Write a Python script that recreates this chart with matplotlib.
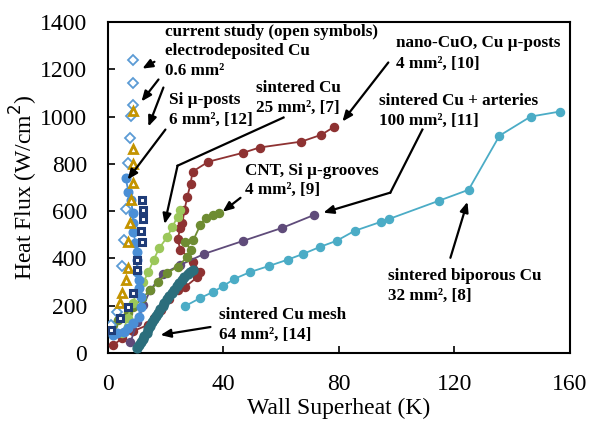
import matplotlib
matplotlib.use("Agg")
import matplotlib.pyplot as plt

plt.rcParams['font.family'] = ['Liberation Serif', 'DejaVu Serif']

# ---------------- data ----------------
# sintered biporous Cu, 32 mm2 [8]
bip_x = [26.8, 32.0, 36.5, 40.0, 43.8, 49.3, 55.9, 62.2, 67.7, 73.6, 79.2, 85.4, 94.7, 97.5, 114.5, 124.9, 135.6, 146.4, 156.4]
bip_y = [198, 232, 258, 283, 313, 342, 368, 394, 419, 449, 474, 516, 555, 567, 643, 690, 919, 1000, 1021]

# nano-CuO, Cu micro-posts, 4 mm2 [10]
cuo_x = [1.9, 5.0, 8.8, 13.7, 15.8, 18.2, 21.0, 24.1, 26.8, 31.0, 32.0, 29.3, 25.1, 24.1, 25.1, 25.8, 26.5, 27.5, 28.6, 29.3, 34.8, 46.9, 52.5, 67.0, 73.9, 78.4]
cuo_y = [33, 62, 92, 117, 147, 181, 227, 266, 279, 321, 342, 386, 437, 480, 529, 550, 605, 661, 716, 767, 809, 847, 869, 894, 923, 957]

# sintered Cu + arteries, 100 mm2 [11]
art_x = [7.8, 10.2, 12.3, 14.7, 18.9, 25.1, 33.4, 46.9, 60.4, 71.5]
art_y = [45, 131, 202, 266, 334, 372, 419, 474, 529, 584]

# CNT, Si micro-grooves, 4 mm2 [9]
cnt_x = [1.9, 3.6, 6.8, 8.8, 11.9, 14.7, 17.5, 20.6, 24.1, 27.5, 28.6, 26.8, 29.6, 32.0, 33.8, 36.5, 38.3]
cnt_y = [118, 139, 168, 194, 232, 266, 300, 338, 364, 406, 436, 470, 478, 541, 571, 584, 592]

# sintered Cu, 25 mm2 [7]
sin_x = [5.0, 6.8, 8.5, 10.2, 12.3, 14.0, 15.8, 17.8, 20.6, 22.3, 24.1, 25.1]
sin_y = [84, 147, 211, 258, 300, 342, 393, 444, 491, 533, 576, 605]

# sintered Cu mesh, 64 mm2 [14]
mesh_x = [10.2, 10.9, 11.3, 12.1, 12.6, 13.4, 13.9, 14.6, 15.4, 15.9, 16.8, 17.3, 18.1, 18.9, 19.5, 20.5, 21.1, 22.1, 22.8, 23.9, 24.6, 25.7, 26.5, 27.7, 28.5, 29.6]
mesh_y = [20, 31, 46, 57, 73, 85, 101, 113, 129, 141, 157, 169, 185, 197, 212, 227, 239, 255, 267, 283, 295, 310, 321, 335, 343, 351]

# Si micro-posts, 6 mm2 [12]
sip_x = [6.1, 7.1, 8.1, 8.5, 8.8, 8.8, 9.5, 9.9, 9.9, 10.2, 10.6, 10.9, 11.3, 11.3, 10.6, 8.8, 7.1, 5.4, 3.3, 1.6]
sip_y = [741, 682, 648, 593, 551, 513, 466, 428, 394, 343, 309, 275, 237, 194, 152, 126, 104, 87, 83, 75]

# current study (open symbols), electrodeposited Cu, 0.6 mm2
dia_x = [8.5, 8.5, 8.5, 8.1, 7.8, 7.1, 6.4, 5.7, 5.0, 3.3, 0.9]
dia_y = [1238, 1144, 1051, 1004, 911, 805, 610, 479, 369, 173, 118]
tri_x = [8.8, 8.8, 8.5, 8.8, 8.1, 7.8, 6.8, 6.8, 6.1, 4.7, 4.0]
tri_y = [1025, 864, 800, 720, 648, 550, 470, 359, 308, 253, 211]
sq_x = [11.9, 12.3, 12.3, 11.6, 11.9, 9.9, 10.2, 8.8, 6.8, 4.3, 0.9]
sq_y = [648, 605, 567, 516, 469, 392, 350, 252, 194, 147, 96]

x_ticks = [0, 40, 80, 120, 160]
y_ticks = [0, 200, 400, 600, 800, 1000, 1200, 1400]

# ---------------- figure ----------------
fig = plt.figure(figsize=(5.9, 4.25), dpi=100)
ax = fig.add_axes([0.183, 0.170, 0.783, 0.778])

ms = 5.8
lw = 1.3
ax.plot(bip_x, bip_y, '-o', color='#4BACC6', ms=ms, lw=lw, zorder=3)
ax.plot(cuo_x, cuo_y, '-o', color='#8E3232', ms=ms, lw=lw, zorder=3)
ax.plot(art_x, art_y, '-o', color='#5F4B7A', ms=ms, lw=lw, zorder=3)
ax.plot(cnt_x, cnt_y, '-o', color='#6E8C32', ms=ms, lw=lw, zorder=3)
ax.plot(sin_x, sin_y, '-o', color='#9BC75A', ms=ms, lw=lw, zorder=3)
ax.plot(mesh_x, mesh_y, '-o', color='#2B6E7C', ms=ms + 0.6, lw=lw, zorder=3)
ax.plot(sip_x, sip_y, '-o', color='#4A8FD6', ms=ms + 0.4, lw=lw, zorder=4)
ax.plot(dia_x, dia_y, 'D', mfc='white', mec='#5B9BD5', mew=1.3, ms=4.8, ls='none', zorder=5)
ax.plot(tri_x, tri_y, '^', mfc='white', mec='#C49400', mew=2.0, ms=6.2, ls='none', zorder=5)
ax.plot(sq_x, sq_y, 's', mfc='white', mec='#1F3C78', mew=2.2, ms=4.3, ls='none', zorder=5)

ax.set_xlim(0, 160)
ax.set_ylim(0, 1400)
ax.set_xticks(x_ticks)
ax.set_yticks(y_ticks)
ax.tick_params(direction='in', length=5, width=1.2, labelsize=17, pad=15)
for s in ax.spines.values():
    s.set_linewidth(1.5)
ax.set_xlabel('Wall Superheat (K)', fontsize=17, labelpad=2)
ax.set_ylabel('Heat Flux (W/cm$^2$)', fontsize=17, labelpad=0)

# ---------------- annotations ----------------
tk = dict(fontsize=12.3, fontweight='bold', va='center', ha='left', zorder=6)
texts = [
    (19.9, 1356, 'current study (open symbols)'),
    (19.9, 1276, 'electrodeposited Cu'),
    (19.9, 1191, '0.6 mm²'),
    (21.0, 1072, 'Si µ-posts'),
    (21.0, 987, '6 mm², [12]'),
    (51.1, 1123, 'sintered Cu'),
    (51.1, 1038, '25 mm², [7]'),
    (99.6, 1310, 'nano-CuO, Cu µ-posts'),
    (99.6, 1225, '4 mm², [10]'),
    (94.0, 1068, 'sintered Cu + arteries'),
    (94.0, 983, '100 mm², [11]'),
    (47.6, 771, 'CNT, Si µ-grooves'),
    (47.6, 690, '4 mm², [9]'),
    (97.1, 325, 'sintered biporous Cu'),
    (97.1, 241, '32 mm², [8]'),
    (38.3, 160, 'sintered Cu mesh'),
    (38.3, 75, '64 mm², [14]'),
]
for x, y, t in texts:
    ax.text(x, y, t, **tk)

ap = dict(arrowstyle='-|>,head_length=0.6,head_width=0.25', color='black', lw=1.6, shrinkA=0, shrinkB=0)

def arrow(start, end):
    ax.annotate('', xy=end, xytext=start, arrowprops=ap, zorder=6)

arrow((16.1, 1232), (11.9, 1203))
arrow((17.5, 1157), (11.6, 1064))
arrow((19.2, 1123), (14.0, 958))
arrow((19.9, 945), (6.8, 733))
ax.plot([60.8, 24.1], [996, 792], color='black', lw=1.6, zorder=6)
arrow((24.1, 792), (19.6, 545))
arrow((97.1, 1229), (81.2, 979))
ax.plot([108.9, 97.8], [945, 678], color='black', lw=1.6, zorder=6)
arrow((97.8, 678), (74.6, 593))
arrow((45.9, 656), (39.7, 597))
arrow((118.6, 402), (124.5, 639))
arrow((35.5, 109), (18.2, 75))

fig.savefig('out.png', dpi=100)
